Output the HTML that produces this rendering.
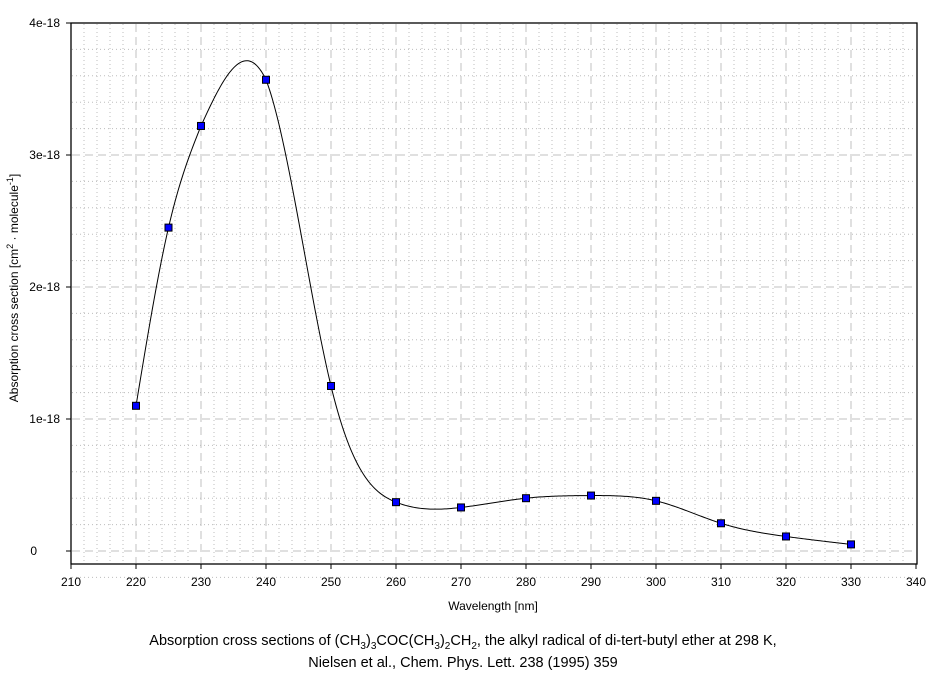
<!DOCTYPE html>
<html><head><meta charset="utf-8"><style>
body{margin:0;background:#fff;}
svg text{font-family:"Liberation Sans",Arial,sans-serif;fill:#000;}
</style></head><body>
<svg id="s" width="940" height="673" xmlns="http://www.w3.org/2000/svg">
<g id="grid"></g>
<rect x="71" y="23" width="846" height="541" fill="none" stroke="#000" stroke-width="1.3"/>
<path id="curve" fill="none" stroke="#000" stroke-width="1"/>
<g id="pts"></g>
<g id="lbl" font-size="12"></g>
<text x="493" y="610" font-size="12" text-anchor="middle">Wavelength [nm]</text>
<text transform="translate(18,288) rotate(-90)" font-size="12" text-anchor="middle">Absorption cross section [cm<tspan dy="-5" font-size="9">2</tspan><tspan dy="5"> · molecule</tspan><tspan dy="-5" font-size="9">-1</tspan><tspan dy="5">]</tspan></text>
<text x="463" y="645" font-size="14.5" text-anchor="middle">Absorption cross sections of (CH<tspan dy="4" font-size="10">3</tspan><tspan dy="-4">)</tspan><tspan dy="4" font-size="10">3</tspan><tspan dy="-4">COC(CH</tspan><tspan dy="4" font-size="10">3</tspan><tspan dy="-4">)</tspan><tspan dy="4" font-size="10">2</tspan><tspan dy="-4">CH</tspan><tspan dy="4" font-size="10">2</tspan><tspan dy="-4">, the alkyl radical of di-tert-butyl ether at 298 K,</tspan></text>
<text x="463" y="667" font-size="14.5" text-anchor="middle">Nielsen et al., Chem. Phys. Lett. 238 (1995) 359</text>
</svg>
<script>
var NS="http://www.w3.org/2000/svg";
function X(w){return 71+(w-210)*6.5;}
function Y(v){return 551-132*v;}
function el(p,t,a,txt){var e=document.createElementNS(NS,t);for(var k in a)e.setAttribute(k,a[k]);if(txt!=null)e.textContent=txt;document.getElementById(p).appendChild(e);return e;}
for(var w=212;w<340;w+=2){if((w-210)%10==0)continue;el("grid","line",{x1:X(w),x2:X(w),y1:24,y2:563,stroke:"#bdbdbd","stroke-dasharray":"1 3"});}
for(var v=-0.2;v<4;v+=0.2){var vv=Math.round(v*10)/10;if(Math.abs(vv-Math.round(vv))<1e-6)continue;el("grid","line",{x1:72,x2:916,y1:Y(vv),y2:Y(vv),stroke:"#bdbdbd","stroke-dasharray":"1 3"});}
for(var w=220;w<340;w+=10)el("grid","line",{x1:X(w),x2:X(w),y1:24,y2:563,stroke:"#c0c0c0","stroke-dasharray":"8 5"});
for(var v=0;v<4;v++)el("grid","line",{x1:72,x2:916,y1:Y(v),y2:Y(v),stroke:"#c0c0c0","stroke-dasharray":"8 5"});
for(var w=210;w<=340;w+=10){el("lbl","line",{x1:X(w),x2:X(w),y1:564,y2:569,stroke:"#000"});el("lbl","text",{x:X(w),y:586,"text-anchor":"middle"},w);}
var yl=["0","1e-18","2e-18","3e-18","4e-18"];
for(var v=0;v<=4;v++){el("lbl","line",{x1:66,x2:71,y1:Y(v),y2:Y(v),stroke:"#000"});el("lbl","text",{x:v==0?37:60,y:Y(v)+4,"text-anchor":"end"},yl[v]);}
var d=[[220,1.10],[225,2.45],[230,3.22],[240,3.57],[250,1.25],[260,0.37],[270,0.33],[280,0.40],[290,0.42],[300,0.38],[310,0.21],[320,0.11],[330,0.05]];
var n=d.length,x=d.map(p=>p[0]),y=d.map(p=>p[1]);
var h=[],al=[0],l=[1],mu=[0],z=[0],c=new Array(n).fill(0),b=[],dd=[];
for(var i=0;i<n-1;i++)h[i]=x[i+1]-x[i];
for(var i=1;i<n-1;i++)al[i]=3/h[i]*(y[i+1]-y[i])-3/h[i-1]*(y[i]-y[i-1]);
for(var i=1;i<n-1;i++){l[i]=2*(x[i+1]-x[i-1])-h[i-1]*mu[i-1];mu[i]=h[i]/l[i];z[i]=(al[i]-h[i-1]*z[i-1])/l[i];}
for(var j=n-2;j>=0;j--){c[j]=z[j]-mu[j]*c[j+1];b[j]=(y[j+1]-y[j])/h[j]-h[j]*(c[j+1]+2*c[j])/3;dd[j]=(c[j+1]-c[j])/(3*h[j]);}
var s="";
for(var i=0;i<n-1;i++){for(var t=0;t<=h[i];t+=0.25){var v=y[i]+b[i]*t+c[i]*t*t+dd[i]*t*t*t;if(i==2){var lin=y[i]+(y[i+1]-y[i])*t/h[i];v=lin+0.85*(v-lin);}s+=(s?"L":"M")+X(x[i]+t).toFixed(2)+","+Y(v).toFixed(2);}}
document.getElementById("curve").setAttribute("d",s);
d.forEach(p=>el("pts","rect",{x:X(p[0])-3.5,y:Y(p[1])-3.5,width:7,height:7,fill:"#0000ff",stroke:"#000","stroke-width":1}));
</script>
</body></html>
